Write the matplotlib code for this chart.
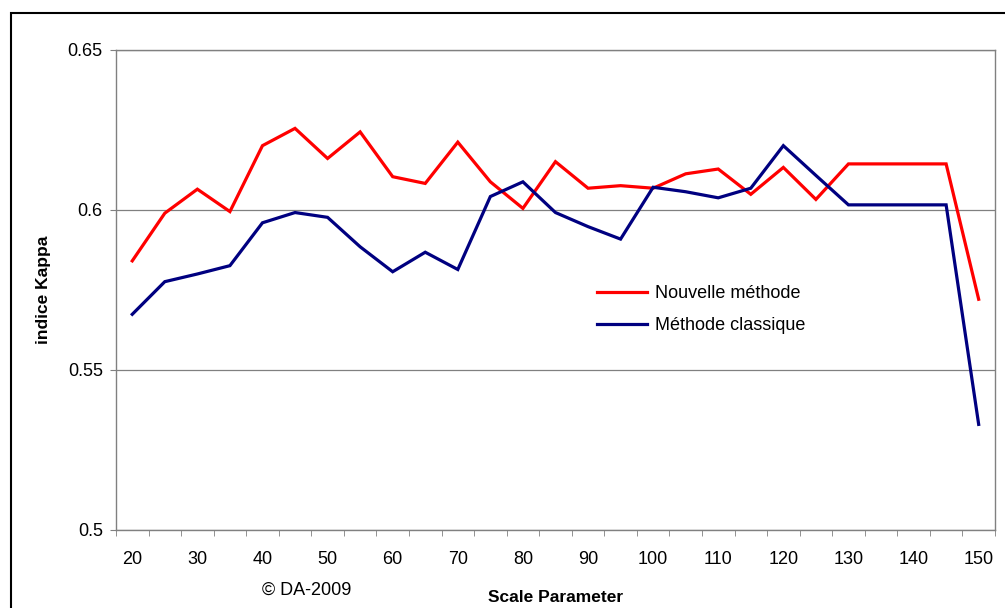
import matplotlib
matplotlib.use("Agg")
import matplotlib.pyplot as plt
from matplotlib.patches import Rectangle
from matplotlib.ticker import FixedLocator

plt.rcParams['font.family'] = ['Liberation Sans', 'DejaVu Sans']

# data
scale_param = [20, 25, 30, 35, 40, 45, 50, 55, 60, 65, 70, 75, 80, 85,
               90, 95, 100, 105, 110, 115, 120, 125, 130, 135, 140, 145, 150]
nouvelle = [0.5841, 0.5990, 0.6065, 0.5995, 0.6201, 0.6255, 0.6161, 0.6244,
            0.6104, 0.6083, 0.6212, 0.6088, 0.6005, 0.6151, 0.6068, 0.6076,
            0.6068, 0.6113, 0.6128, 0.6049, 0.6133, 0.6033, 0.6144, 0.6144,
            0.6144, 0.6144, 0.5721]
classique = [0.5674, 0.5776, 0.5800, 0.5826, 0.5960, 0.5992, 0.5977, 0.5885,
             0.5807, 0.5868, 0.5814, 0.6042, 0.6088, 0.5992, 0.5948, 0.5909,
             0.6071, 0.6057, 0.6038, 0.6068, 0.6201, 0.6108, 0.6016, 0.6016,
             0.6016, 0.6016, 0.5330]
y_ticks = [0.5, 0.55, 0.6, 0.65]
y_labels = ['0.5', '0.55', '0.6', '0.65']

fig = plt.figure(figsize=(10.05, 6.08), dpi=100)
ax = fig.add_axes([0.1154, 0.1283, 0.8746, 0.7895])

idx = list(range(len(scale_param)))
ax.plot(idx, nouvelle, color='#ff0000', lw=2.3, label='Nouvelle méthode', solid_joinstyle='miter')
ax.plot(idx, classique, color='#000080', lw=2.3, label='Méthode classique', solid_joinstyle='miter')

ax.set_xlim(-0.5, len(scale_param) - 0.5)
ax.set_ylim(0.5, 0.65)

# category axis: ticks between categories, labels every other category
ax.set_xticks(idx[::2])
ax.set_xticklabels([str(v) for v in scale_param[::2]])
ax.xaxis.set_minor_locator(FixedLocator([i - 0.5 for i in range(len(scale_param) + 1)]))
ax.tick_params(axis='x', which='major', length=0, pad=15, labelsize=13)
ax.tick_params(axis='x', which='minor', length=4.5, direction='out', color='#808080')

ax.set_yticks(y_ticks)
ax.set_yticklabels(y_labels)
ax.tick_params(axis='y', length=4.5, direction='out', color='#808080', labelsize=13, pad=5)

ax.grid(axis='y', color='#808080', lw=0.9)
ax.set_axisbelow(True)
for side in ['left', 'bottom', 'right', 'top']:
    ax.spines[side].set_color('#808080')
    ax.spines[side].set_linewidth(1.0)

ax.set_ylabel('indice Kappa', fontsize=12.5, fontweight='bold', labelpad=12)
ax.set_xlabel('Scale Parameter', fontsize=12.5, fontweight='bold', labelpad=16)

ax.legend(loc='upper left', bbox_to_anchor=(0.547, 0.51), frameon=False, fontsize=13,
          borderpad=0, borderaxespad=0, handlelength=2.8, handletextpad=0.4,
          labelspacing=0.82)

fig.text(0.261, 0.0296, '© DA-2009', fontsize=13, va='center')

# black border around the chart
fig.patches.append(Rectangle((0.0105, -0.1), 1.2, 1.0 - 0.021 + 0.1, transform=fig.transFigure,
                             fill=False, edgecolor='black', lw=1.5, clip_on=False))

fig.savefig('out.png', dpi=100)
